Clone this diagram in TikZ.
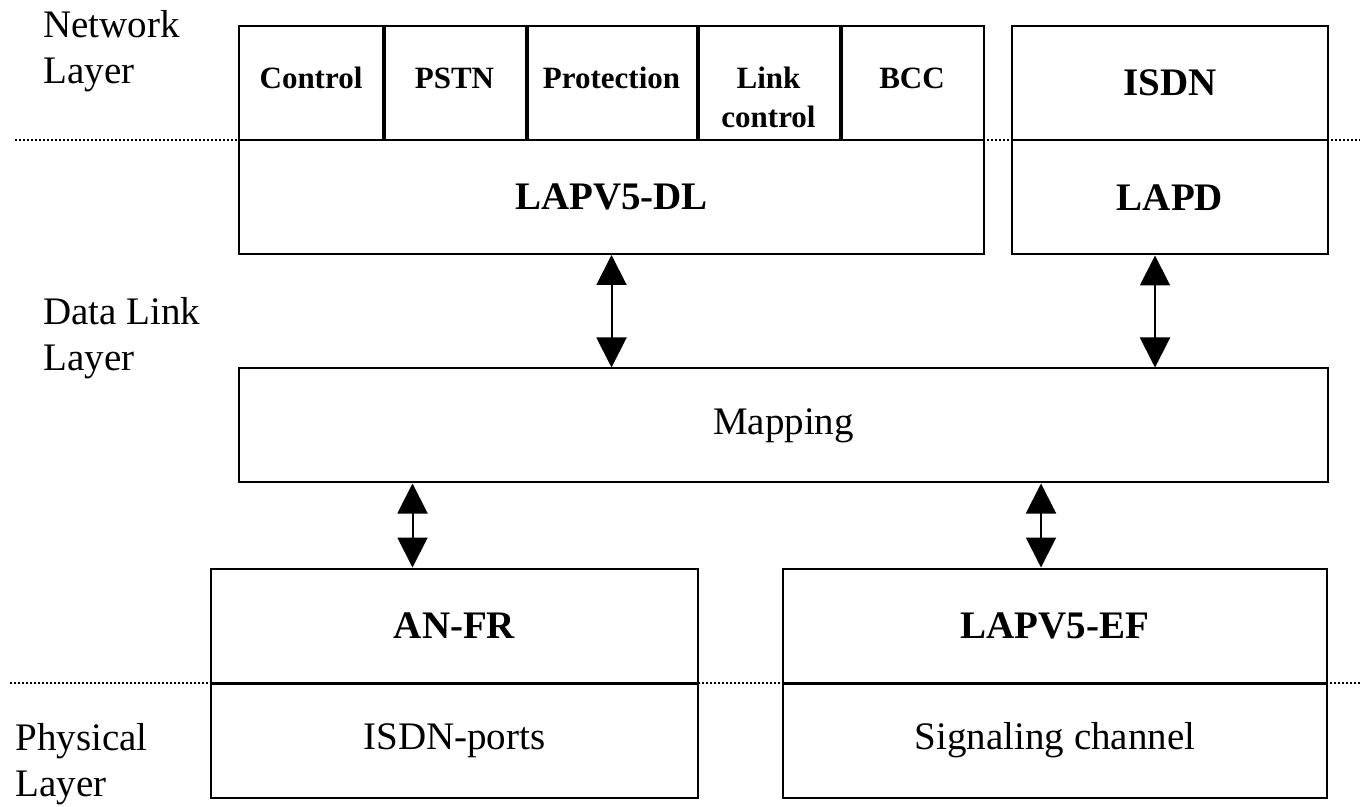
\documentclass[tikz,border=0pt]{standalone}
\usepackage{fontspec}
\setmainfont{Liberation Serif}
\usetikzlibrary{arrows.meta,positioning}
\tikzset{
  layerbox/.style={draw=black,line width=1pt,fill=white,inner sep=0pt,minimum height=57pt,font=\fontsize{19.5}{23}\selectfont},
  boldtext/.style={font=\fontsize{19.5}{23}\selectfont\bfseries},
  cell/.style={draw=black,line width=1pt,fill=white,inner sep=0pt,minimum height=57pt,align=center,text height=10.5pt,text depth=4.5pt,font=\fontsize{15.5}{19.5}\selectfont\bfseries},
  cellsep/.style={line width=1.6pt,draw=black},
  layersep/.style={line width=0.8pt,dash pattern=on 0.8pt off 1.2pt,draw=black},
  linkarrow/.style={{Triangle[length=15pt,width=15pt]}-{Triangle[length=15pt,width=15pt]},line width=1pt,draw=black},
  laylabel/.style={anchor=north west,inner sep=0pt,align=left,font=\fontsize{19.5}{23}\selectfont}
}
\begin{document}
\begin{tikzpicture}[x=0.5pt,y=-0.5pt]
  \useasboundingbox (0,0) rectangle (1360,807);
  \draw[layersep] (15,140) -- (1360,140);
  \draw[layersep] (10,683) -- (1360,683);
  \node[laylabel] (netlabel) at (43,10) {Network\\Layer};
  \node[laylabel] (dllabel) at (43,297) {Data Link\\Layer};
  \node[laylabel] (phylabel) at (15,723) {Physical\\Layer};
  \node[cell,minimum width=72pt] (ctrl) at (311,83) {Control};
  \node[cell,minimum width=71.5pt] (pstn) at (454.5,83) {PSTN};
  \node[cell,minimum width=85.5pt] (prot) at (611.5,83) {Protection};
  \node[cell,minimum width=71.5pt,text height=49.5pt] (link) at (768.5,83) {Link\\control};
  \node[cell,minimum width=72pt] (bcc) at (912,83) {BCC};
  \foreach \a in {ctrl,pstn,prot,link} \draw[cellsep] (\a.north east) -- (\a.south east);
  \node[layerbox,boldtext,minimum width=372.5pt] (dl) at (611.5,197) {LAPV5-DL};
  \node[layerbox,boldtext,minimum width=158pt] (isdn) at (1170,83) {ISDN};
  \node[layerbox,boldtext,minimum width=158pt] (lapd) at (1170,197.5) {LAPD};
  \node[layerbox,minimum width=544.5pt] (map) at (783.5,425.5) {Mapping};
  \node[layerbox,boldtext,minimum width=243.5pt] (anfr) at (454.5,625.5) {AN-FR};
  \node[layerbox,minimum width=243.5pt] (ports) at (454.5,740.5) {ISDN-ports};
  \node[layerbox,boldtext,minimum width=272pt] (ef) at (1055,625.5) {LAPV5-EF};
  \node[layerbox,minimum width=272pt] (sig) at (1055,740.5) {Signaling channel};
  \draw[linkarrow] (dl.south) -- (dl.south |- map.north);
  \draw[linkarrow] ([xshift=-7.5pt]lapd.south) -- ([xshift=-7.5pt]lapd.south |- map.north);
  \draw[linkarrow] ([xshift=-21pt]anfr.north |- map.south) -- ([xshift=-21pt]anfr.north);
  \draw[linkarrow] ([xshift=-7pt]ef.north |- map.south) -- ([xshift=-7pt]ef.north);
\end{tikzpicture}
\end{document}
